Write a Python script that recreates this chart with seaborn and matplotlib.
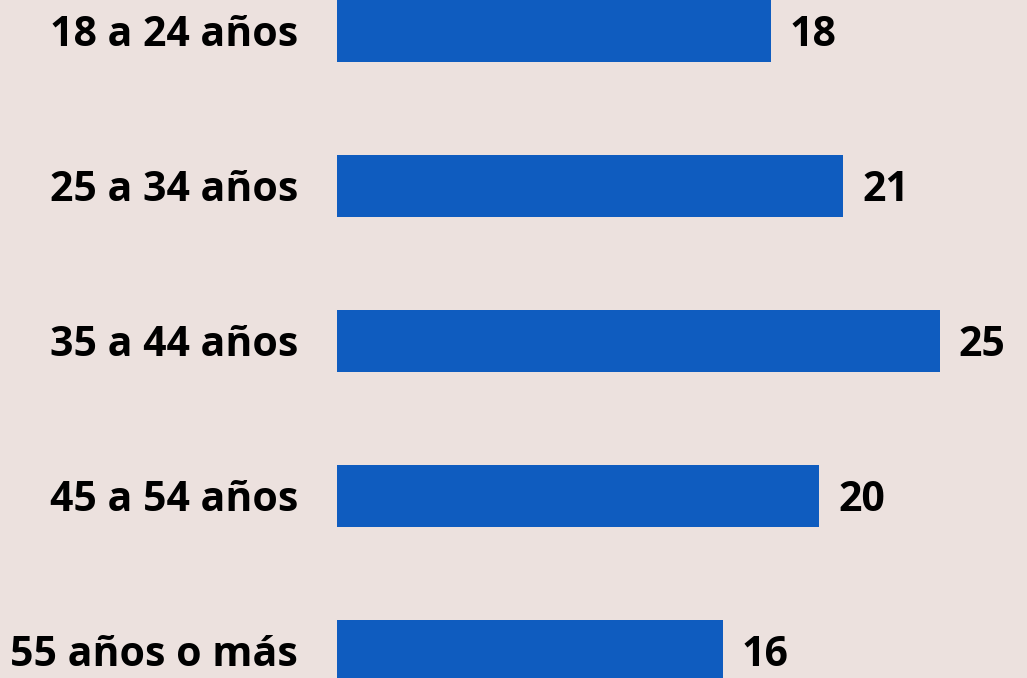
import matplotlib
matplotlib.use("Agg")
import matplotlib.pyplot as plt
import seaborn as sns
import pandas as pd

categories = ["18 a 24 años", "25 a 34 años", "35 a 44 años", "45 a 54 años", "55 años o más"]
values = [18, 21, 25, 20, 16]

bg = "#ECE1DE"
bar_color = "#0F5CBF"

sns.set_theme(style="white")
plt.rcParams["font.family"] = ["Open Sans", "DejaVu Sans"]

df = pd.DataFrame({"grupo": categories, "valor": values})

fig = plt.figure(figsize=(10.27, 6.78), dpi=100, facecolor=bg)
ax = fig.add_axes([337 / 1027, 0, 690 / 1027, 1])
ax.set_facecolor(bg)

sns.barplot(data=df, x="valor", y="grupo", orient="h", color=bar_color,
            width=0.4, saturation=1, linewidth=0, ax=ax)

ax.set_xlim(0, 690 / 24.1)
ax.set_ylim(4 + (678 - 650.5) / 155, -30.5 / 155)

for i, v in enumerate(values):
    ax.text(v + 19 / 24.1, i, f"{v}", va="center_baseline", ha="left",
            fontsize=29.5, fontweight="bold", color="black")

ax.set_xlabel("")
ax.set_ylabel("")
ax.set_xticks([])
ax.tick_params(axis="y", length=0, pad=28, labelsize=29.5)
for lbl in ax.get_yticklabels():
    lbl.set_fontweight("bold")
    lbl.set_color("black")
for s in ax.spines.values():
    s.set_visible(False)

fig.savefig("out.png", dpi=100, facecolor=bg)
